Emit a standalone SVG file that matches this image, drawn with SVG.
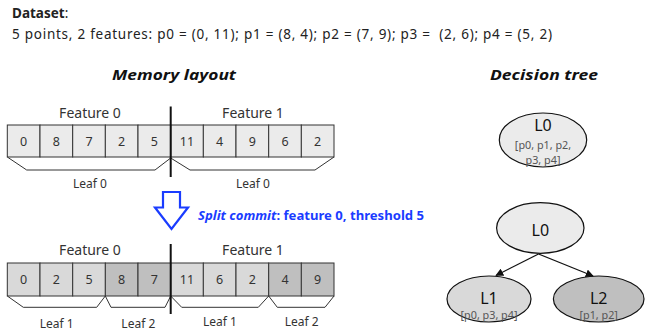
<svg xmlns="http://www.w3.org/2000/svg" width="656" height="331" viewBox="0 0 656 331">
<defs>
<style>
text{font-family:"Noto Sans","Liberation Sans",sans-serif;fill:#222}
.cell{stroke:#333;stroke-width:1}
.c0{fill:#ebebeb}.c1{fill:#d9d9d9}.c2{fill:#bfbfbf}
.num{font-size:12.5px;text-anchor:middle;fill:#333}
.feat{font-size:14px;text-anchor:middle;fill:#333}
.leaf{font-size:12px;text-anchor:middle;fill:#333}
.brace{fill:none;stroke:#333;stroke-width:1}
.div{stroke:#111;stroke-width:2}
.title{font-size:15px;font-weight:bold;font-style:italic;text-anchor:middle;fill:#111}
.node{stroke:#111;stroke-width:1.2}
.nl{font-size:16px;text-anchor:middle;fill:#111}
.ns{font-size:10.8px;text-anchor:middle;fill:#555}
.edge{stroke:#111;stroke-width:1.2;fill:none;marker-end:url(#ah)}
</style>
<marker id="ah" viewBox="0 0 10 10" refX="9" refY="5" markerWidth="8" markerHeight="8" orient="auto" markerUnits="userSpaceOnUse"><path d="M0,0 L10,5 L0,10 z" fill="#111"/></marker>
</defs>
<rect width="656" height="331" fill="#fff"/>
<text x="12" y="18" font-size="13.5" font-weight="bold">Dataset<tspan font-weight="normal">:</tspan></text>
<text x="12" y="39" font-size="13.5" xml:space="preserve" textLength="540" lengthAdjust="spacing">5 points, 2 features: p0 = (0, 11); p1 = (8, 4); p2 = (7, 9); p3 =  (2, 6); p4 = (5, 2)</text>
<text class="title" x="174" y="80" textLength="124" lengthAdjust="spacingAndGlyphs">Memory layout</text>
<text class="title" x="544" y="80" textLength="108" lengthAdjust="spacingAndGlyphs">Decision tree</text>

<g id="layout-before">
<text class="feat" x="90" y="118">Feature 0</text>
<text class="feat" x="253" y="118">Feature 1</text>
<rect class="cell c0" x="7.3" y="125" width="32.7" height="32"/>
<rect class="cell c0" x="40" y="125" width="32.7" height="32"/>
<rect class="cell c0" x="72.7" y="125" width="32.7" height="32"/>
<rect class="cell c0" x="105.3" y="125" width="32.7" height="32"/>
<rect class="cell c0" x="138" y="125" width="32.7" height="32"/>
<rect class="cell c0" x="170.7" y="125" width="32.7" height="32"/>
<rect class="cell c0" x="203.3" y="125" width="32.7" height="32"/>
<rect class="cell c0" x="236" y="125" width="32.7" height="32"/>
<rect class="cell c0" x="268.7" y="125" width="32.7" height="32"/>
<rect class="cell c0" x="301.3" y="125" width="32.7" height="32"/>
<text class="num" x="23.7" y="146">0</text>
<text class="num" x="56.3" y="146">8</text>
<text class="num" x="89" y="146">7</text>
<text class="num" x="121.7" y="146">2</text>
<text class="num" x="154.3" y="146">5</text>
<text class="num" x="187" y="146">11</text>
<text class="num" x="219.7" y="146">4</text>
<text class="num" x="252.3" y="146">9</text>
<text class="num" x="285" y="146">6</text>
<text class="num" x="317.7" y="146">2</text>
<path class="brace" d="M7.3,157 L26.7,170 L155,170 L170.7,158"/>
<path class="brace" d="M170.7,158 L190,170 L315,170 L334,157"/>
<text class="leaf" x="90" y="188">Leaf 0</text>
<text class="leaf" x="253" y="188">Leaf 0</text>
<line class="div" x1="170.7" y1="106.5" x2="170.7" y2="177"/>
</g>

<g id="split-arrow">
<path d="M163,192 L180,192 L180,207.5 L188,207.5 L171.5,229 L155,207.5 L163,207.5 Z" fill="none" stroke="#1a3cff" stroke-width="2.2" stroke-linejoin="miter"/>
<text x="198" y="220" font-size="13" font-weight="bold" style="fill:#1a3cff" textLength="226" lengthAdjust="spacingAndGlyphs"><tspan font-style="italic">Split commit</tspan>: feature 0, threshold 5</text>
</g>

<g id="layout-after">
<text class="feat" x="90" y="255">Feature 0</text>
<text class="feat" x="253" y="255">Feature 1</text>
<rect class="cell c1" x="7.3" y="263" width="32.7" height="33"/>
<rect class="cell c1" x="40" y="263" width="32.7" height="33"/>
<rect class="cell c1" x="72.7" y="263" width="32.7" height="33"/>
<rect class="cell c2" x="105.3" y="263" width="32.7" height="33"/>
<rect class="cell c2" x="138" y="263" width="32.7" height="33"/>
<rect class="cell c1" x="170.7" y="263" width="32.7" height="33"/>
<rect class="cell c1" x="203.3" y="263" width="32.7" height="33"/>
<rect class="cell c1" x="236" y="263" width="32.7" height="33"/>
<rect class="cell c2" x="268.7" y="263" width="32.7" height="33"/>
<rect class="cell c2" x="301.3" y="263" width="32.7" height="33"/>
<text class="num" x="23.7" y="284">0</text>
<text class="num" x="56.3" y="284">2</text>
<text class="num" x="89" y="284">5</text>
<text class="num" x="121.7" y="284">8</text>
<text class="num" x="154.3" y="284">7</text>
<text class="num" x="187" y="284">11</text>
<text class="num" x="219.7" y="284">6</text>
<text class="num" x="252.3" y="284">2</text>
<text class="num" x="285" y="284">4</text>
<text class="num" x="317.7" y="284">9</text>
<path class="brace" d="M7.3,296 L23.3,307.3 L96.7,307.3 L105.3,296"/>
<path class="brace" d="M105.3,296 L111,307.3 L165,307.3 L170.7,296"/>
<path class="brace" d="M170.7,296 L181.7,307.3 L258.3,307.3 L268.7,296"/>
<path class="brace" d="M268.7,296 L277.3,307.3 L325,307.3 L334,296"/>
<text class="leaf" x="56.7" y="328">Leaf 1</text>
<text class="leaf" x="138.3" y="328">Leaf 2</text>
<text class="leaf" x="220" y="326">Leaf 1</text>
<text class="leaf" x="301.7" y="326">Leaf 2</text>
<line class="div" x1="170.7" y1="244" x2="170.7" y2="314"/>
</g>

<g id="tree0-L0">
<ellipse class="node c0" cx="543" cy="140" rx="43.7" ry="27"/>
<text class="nl" x="543" y="131">L0</text>
<text class="ns" x="543" y="148.5">[p0, p1, p2,</text>
<text class="ns" x="543" y="163.5">p3, p4]</text>
</g>

<g id="tree1-L0">
<ellipse class="node c0" cx="540.3" cy="228" rx="43.7" ry="25.3"/>
<text class="nl" x="540.3" y="236">L0</text>
</g>
<g id="tree1-L1">
<ellipse class="node c1" cx="489" cy="299" rx="42" ry="23"/>
<text class="nl" x="489" y="304">L1</text>
<text class="ns" x="489" y="319">[p0, p3, p4]</text>
</g>
<g id="tree1-L2">
<ellipse class="node c2" cx="598.7" cy="299" rx="45.3" ry="23"/>
<text class="nl" x="598.7" y="304">L2</text>
<text class="ns" x="598.7" y="319">[p1, p2]</text>
</g>
<g id="connectors">
<line class="edge" x1="538.5" y1="254" x2="496" y2="275.5"/>
<line class="edge" x1="538.5" y1="254" x2="593" y2="276"/>
</g>
</svg>
